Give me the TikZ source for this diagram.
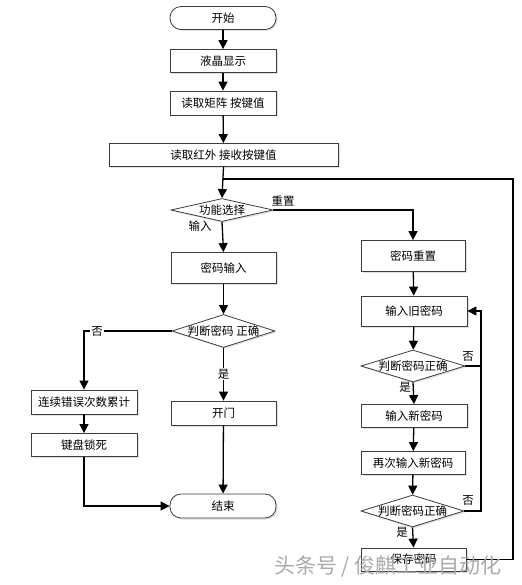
\documentclass[tikz,border=0pt]{standalone}
\usepackage{fontspec}
\setmainfont{Noto Sans CJK SC}
\usetikzlibrary{shapes.geometric,arrows.meta,shadows}
\begin{document}
\begin{tikzpicture}[x=1pt,y=-1pt,
  font=\fontsize{11.5}{13}\selectfont,
  boxst/.style={draw={rgb,255:red,60;green,60;blue,60},line width=0.8pt,fill=white,inner sep=0pt,
    drop shadow={shadow xshift=1.5pt,shadow yshift=-1.5pt,fill=black,opacity=0.12}},
  proc/.style={boxst,rectangle,minimum height=23pt},
  term/.style={boxst,rectangle,rounded corners=11pt,minimum width=106pt,minimum height=23pt},
  dec/.style={boxst,diamond,aspect=3.2,text height=8.5pt,text depth=0.5pt,minimum width=103pt,minimum height=32pt},
  arr/.style={line width=1.3pt,-{Triangle[length=9pt,width=9pt]}},
  ln/.style={line width=1.3pt},
  lab/.style={inner sep=1pt}
]
\useasboundingbox (0,0) rectangle (521,585);
% left / main column
\node[term] (start) at (223,18) {开始};
\node[proc,minimum width=106pt] (lcd) at (223,61) {液晶显示};
\node[proc,minimum width=106pt,minimum height=24pt] (mat) at (223,103) {读取矩阵 按键值};
\node[proc,minimum width=229pt] (ir) at (223.5,155) {读取红外 接收按键值};
\node[dec,minimum width=102pt,minimum height=23pt,aspect=4.4] (sel) at (222,210) {功能选择};
\node[proc,minimum width=105pt,minimum height=31pt] (pin) at (223.5,268) {密码输入};
\node[dec,minimum height=33pt] (d1) at (223.5,331) {判断密码 正确};
\node[proc,minimum width=105pt,minimum height=24pt] (open) at (223.5,413) {开门};
\node[proc,minimum width=106pt,minimum height=24pt] (err) at (84,402) {连续错误次数累计};
\node[proc,minimum width=106pt] (lock) at (84,445) {键盘锁死};
\node[term,minimum height=24pt] (end) at (223,506) {结束};
% right column
\node[proc,minimum width=104pt,minimum height=31pt] (pr) at (413,256) {密码重置};
\node[proc,minimum width=106pt,minimum height=30pt] (old) at (414,311) {输入旧密码};
\node[dec,minimum width=104pt] (d2) at (413,366) {判断密码正确};
\node[proc,minimum width=106pt] (new) at (414,416) {输入新密码};
\node[proc,minimum width=104pt] (again) at (413,463) {再次输入新密码};
\node[dec] (d3) at (412.5,511) {判断密码正确};
\node[proc,minimum width=105pt] (save) at (413.5,559.5) {保存密码};
% helper coordinates
\coordinate (loopR) at (513,179);
\coordinate (join) at (223,179);
\coordinate (r1) at (481,311);
\coordinate (r2) at (481,366);
% connectors
\draw[arr] (start) -- (lcd);
\draw[arr] (lcd) -- (mat);
\draw[arr] (mat) -- (ir);
\draw[arr] (ir.south) -- (sel.north);
\draw[ln] (save.east) -| (loopR) -- (join);
\draw[arr] (sel.east) -| (pr.north);
\node[lab] (lreset) at (283,201) {重置};
\draw[arr] (sel.south) -- (pin.north);
\node[lab] (linput) at (200,226) {输入};
\draw[arr] (pin) -- (d1);
\draw[arr] (d1.west) -| (err.north);
\node[lab,fill=white] (lno1) at (97,331) {否};
\draw[arr] (d1.south) -- (open.north);
\node[lab,fill=white] (lyes1) at (223.5,374) {是};
\draw[arr] (err) -- (lock);
\draw[arr] (lock.south) |- (end.west);
\draw[arr] (open) -- (end);
\draw[arr] (pr) -- (old);
\draw[arr] (old) -- (d2);
\draw[arr] (d2.east) -- (r2) -- (r1) -- (old.east);
\node[lab] (lno2) at (468,356) {否};
\draw[arr] (d2.south) -- (new.north);
\node[lab] (lyes2) at (405,387) {是};
\draw[arr] (new) -- (again);
\draw[arr] (again) -- (d3);
\draw[ln] (d3.east) -| (r2);
\node[lab] (lno3) at (468,500) {否};
\node[lab] (lyes3) at (402,532) {是};
\draw[arr] (d3.south) -- (save.north);
% watermark
\node[text={rgb,255:red,170;green,170;blue,170},font=\fontsize{21}{24}\selectfont] (wm) at (388,566) {头条号 / 俊麒工业自动化};
\end{tikzpicture}
\end{document}
